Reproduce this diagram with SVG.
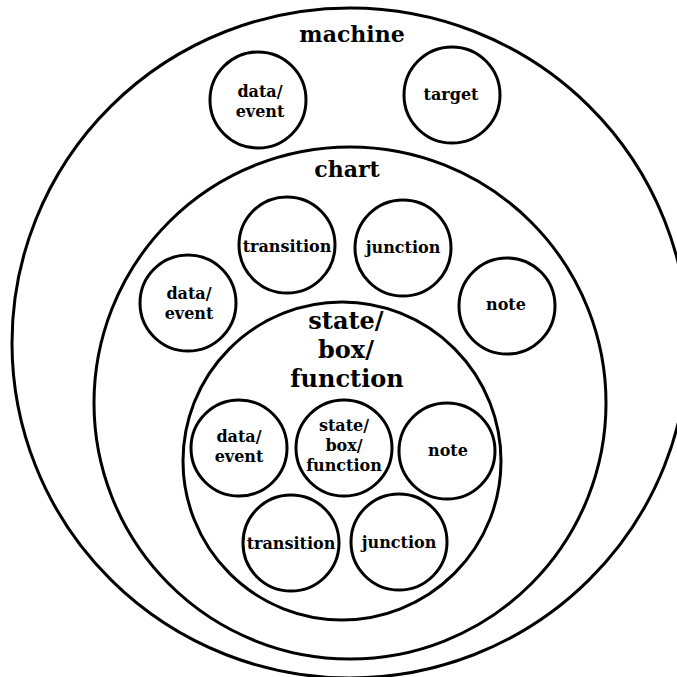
<svg xmlns="http://www.w3.org/2000/svg" width="677" height="677" viewBox="0 0 677 677">
<style>
  .c { fill: none; stroke: #000; stroke-width: 3; }
  .t { font-family: "DejaVu Serif", "Liberation Serif", serif; font-weight: bold; fill: #000; text-anchor: middle; }
  .s { font-size: 16px; }
  .m { font-size: 22px; }
  .l { font-size: 24px; }
</style>
<rect width="677" height="677" fill="#fff"/>
<g id="connectors"/>
<g id="machine">
  <ellipse class="c" cx="350" cy="343" rx="338" ry="335"/>
  <text class="t m" x="352" y="42">machine</text>
</g>
<g id="machine-data-event">
  <circle class="c" cx="258" cy="100" r="48"/>
  <text class="t s" x="260" y="97">data/</text>
  <text class="t s" x="260" y="117">event</text>
</g>
<g id="machine-target">
  <circle class="c" cx="452" cy="95" r="48"/>
  <text class="t s" x="451" y="100">target</text>
</g>
<g id="chart">
  <circle class="c" cx="350" cy="403" r="256"/>
  <text class="t m" x="347" y="177">chart</text>
</g>
<g id="chart-transition">
  <circle class="c" cx="287" cy="245" r="48"/>
  <text class="t s" x="287" y="252">transition</text>
</g>
<g id="chart-junction">
  <circle class="c" cx="403" cy="248" r="48"/>
  <text class="t s" x="403" y="253">junction</text>
</g>
<g id="chart-data-event">
  <circle class="c" cx="188" cy="303" r="48"/>
  <text class="t s" x="189" y="299">data/</text>
  <text class="t s" x="189" y="319">event</text>
</g>
<g id="chart-note">
  <circle class="c" cx="507" cy="306" r="48"/>
  <text class="t s" x="506" y="310">note</text>
</g>
<g id="state">
  <circle class="c" cx="342" cy="461" r="159"/>
  <text class="t l" x="346" y="329">state/</text>
  <text class="t l" x="346" y="358">box/</text>
  <text class="t l" x="347" y="387">function</text>
</g>
<g id="state-data-event">
  <circle class="c" cx="239" cy="448" r="48"/>
  <text class="t s" x="239" y="442">data/</text>
  <text class="t s" x="239" y="462">event</text>
</g>
<g id="state-state">
  <circle class="c" cx="344" cy="448" r="48"/>
  <text class="t s" x="344" y="431">state/</text>
  <text class="t s" x="344" y="451">box/</text>
  <text class="t s" x="344" y="471">function</text>
</g>
<g id="state-note">
  <circle class="c" cx="447" cy="451" r="48"/>
  <text class="t s" x="448" y="456">note</text>
</g>
<g id="state-transition">
  <circle class="c" cx="291" cy="543" r="48"/>
  <text class="t s" x="291" y="549">transition</text>
</g>
<g id="state-junction">
  <circle class="c" cx="399" cy="542" r="48"/>
  <text class="t s" x="399" y="548">junction</text>
</g>
</svg>
